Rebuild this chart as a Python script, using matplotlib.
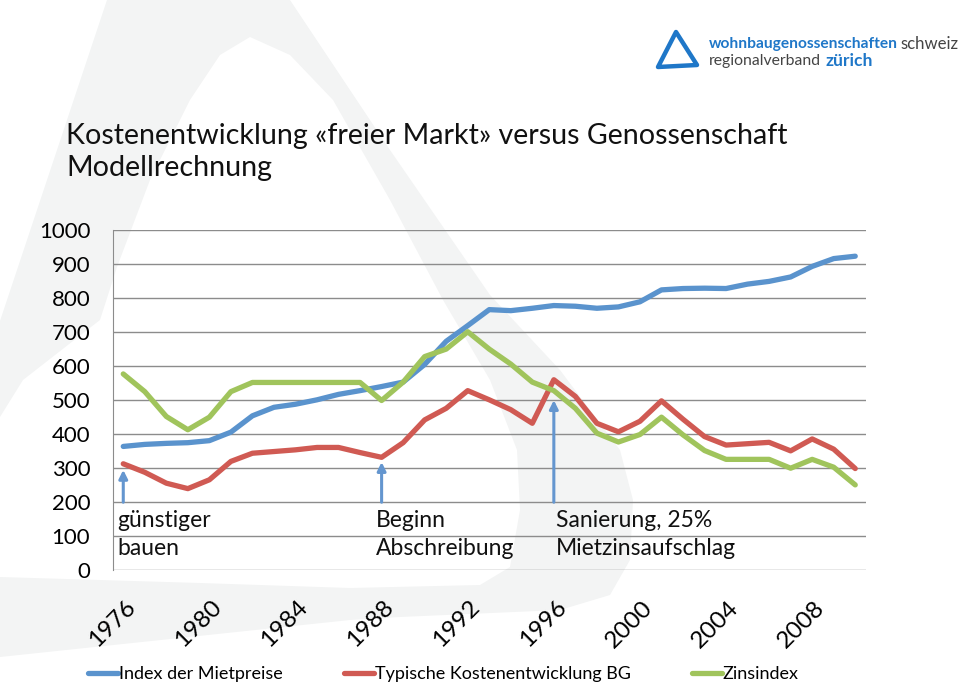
import numpy as np
import matplotlib
matplotlib.use('Agg')
from matplotlib import pyplot as plt
from matplotlib.patches import Polygon
import matplotlib.transforms as mtrans

plt.rcParams['font.family'] = ['Lato', 'DejaVu Sans']

# data
years = list(range(1976, 2011))
mietpreise = [364, 370, 373, 375, 381, 406, 454, 479, 488, 501, 517, 528, 540, 553, 605,
              673, 719, 766, 763, 770, 778, 776, 770, 774, 789, 824, 828, 829, 828, 841,
              849, 862, 893, 916, 923]
kosten_bg = [313, 288, 256, 240, 266, 320, 344, 349, 354, 361, 361, 346, 332, 375,
             442, 476, 528, 501, 472, 432, 560, 511, 432, 407, 438, 498, 444, 393, 368,
             372, 376, 351, 386, 356, 299]
zinsindex = [577, 525, 452, 413, 450, 525, 552, 552, 552, 552, 552, 552, 499, 553, 628,
             650, 701, 650, 606, 553, 528, 476, 403, 377, 399, 450, 398, 352, 326, 326,
             326, 300, 326, 303, 251]
year_ticks = [1976, 1980, 1984, 1988, 1992, 1996, 2000, 2004, 2008]
y_ticks = list(range(0, 1001, 100))

# annotations: year, arrow tip, label
notes = [(1976, 295, 'günstiger\nbauen'),
         (1988, 318, 'Beginn\nAbschreibung'),
         (1996, 500, 'Sanierung, 25%\nMietzinsaufschlag')]

legend_names = ['Index der Mietpreise', 'Typische Kostenentwicklung BG', 'Zinsindex']
colors = ['#5a93cd', '#d05a53', '#a0c45c']

fig = plt.figure(figsize=(9.6, 6.83), dpi=100)
renderer = fig.canvas.get_renderer()


def fit(t, width):
    # scale a text so it spans the given width in pixels
    w = t.get_window_extent(renderer).width
    t.set_fontsize(t.get_fontsize() * width / w)


# background watermark + logo, drawn in pixel space
bg = fig.add_axes([0, 0, 1, 1], zorder=-1)
bg.set_xlim(0, 960)
bg.set_ylim(683, 0)
bg.axis('off')
outer = [(-60, 500), (-33, 420), (7, 300), (107, 0), (150, -50), (200, -70), (260, -40),
         (290, 0), (390, 150), (490, 295), (560, 370), (620, 450), (633, 500), (630, 560),
         (610, 595), (560, 610), (400, 617), (350, 620), (0, 657), (-60, 665)]
inner = [(250, 37), (290, 55), (333, 100), (390, 200), (443, 300), (490, 380), (517, 450),
         (520, 510), (510, 567), (480, 585), (350, 588), (200, 583), (0, 577), (-10, 500),
         (0, 417), (23, 380), (100, 320), (117, 267), (150, 180), (190, 100), (220, 55)]
bg.add_patch(Polygon(outer, closed=True, fc='#f3f4f4', ec='none'))
bg.add_patch(Polygon(inner, closed=True, fc='white', ec='none'))

logo_blue = '#1f77c8'
bg.add_patch(Polygon([(676, 32), (658, 67), (697, 65)], closed=True, fill=False,
                     ec=logo_blue, lw=3.2, joinstyle='round'))
t1 = bg.text(709, 44, 'wohnbaugenossenschaften', color=logo_blue, fontsize=12,
             fontweight='bold', va='center')
t2 = bg.text(900, 44, 'schweiz', color='#444444', fontsize=12, va='center')
t3 = bg.text(709, 61, 'regionalverband', color='#444444', fontsize=12, va='center')
t4 = bg.text(826, 61, 'zürich', color=logo_blue, fontsize=12, fontweight='bold', va='center')
fit(t1, 188)
fit(t2, 58)
fit(t3, 112)
fit(t4, 47)

title = bg.text(66, 136, 'Kostenentwicklung «freier Markt» versus Genossenschaft',
                fontsize=20, color='#111111', va='center')
fit(title, 724)
bg.text(66, 168, 'Modellrechnung', fontsize=title.get_fontsize(), color='#111111', va='center')

# main chart
ax = fig.add_axes([112.5 / 960, 1 - 570.3 / 683, (866 - 112.5) / 960, (570.3 - 230) / 683])
ax.patch.set_alpha(0)
ax.plot(years, mietpreise, color=colors[0], lw=3.8, solid_joinstyle='round',
        solid_capstyle='round', label=legend_names[0])
ax.plot(years, kosten_bg, color=colors[1], lw=3.8, solid_joinstyle='round',
        solid_capstyle='round', label=legend_names[1])
ax.plot(years, zinsindex, color=colors[2], lw=3.8, solid_joinstyle='round',
        solid_capstyle='round', label=legend_names[2])

ax.set_xlim(1975.5, 2010.5)
ax.set_ylim(0, 1000)
ax.set_yticks(y_ticks)
ax.set_xticks(year_ticks)
ax.set_xticklabels([str(y) for y in year_ticks], rotation=45, ha='right',
                   rotation_mode='anchor', fontsize=17.5)
ax.tick_params(axis='y', labelsize=16, length=0, pad=16)
ax.tick_params(axis='x', length=0, pad=19)
for lbl in ax.get_xticklabels():
    lbl.set_transform(lbl.get_transform() + mtrans.ScaledTranslation(0.015, 0, fig.dpi_scale_trans))
ax.grid(axis='y', color='#8c8c8c', lw=1)
ax.set_axisbelow(True)
for s in ['top', 'right', 'bottom']:
    ax.spines[s].set_visible(False)
ax.spines['left'].set_color('#8c8c8c')

for yr, tip, txt in notes:
    ax.annotate('', xy=(yr, tip), xytext=(yr, 200),
                arrowprops=dict(arrowstyle='-|>,head_length=0.5,head_width=0.25',
                                color='#6496cf', lw=2.2, shrinkA=0, shrinkB=0))
    ax.text(yr - 0.28 if yr < 1996 else yr + 0.1, 178, txt, fontsize=16.5,
            color='#111111', va='top', ha='left', linespacing=1.4)

ax.legend(loc='upper left', bbox_to_anchor=(-0.042, -0.26), ncol=3, frameon=False,
          fontsize=13, handlelength=1.65, handletextpad=0.05, columnspacing=3.4,
          borderaxespad=0)

fig.savefig('out.png', dpi=100)
